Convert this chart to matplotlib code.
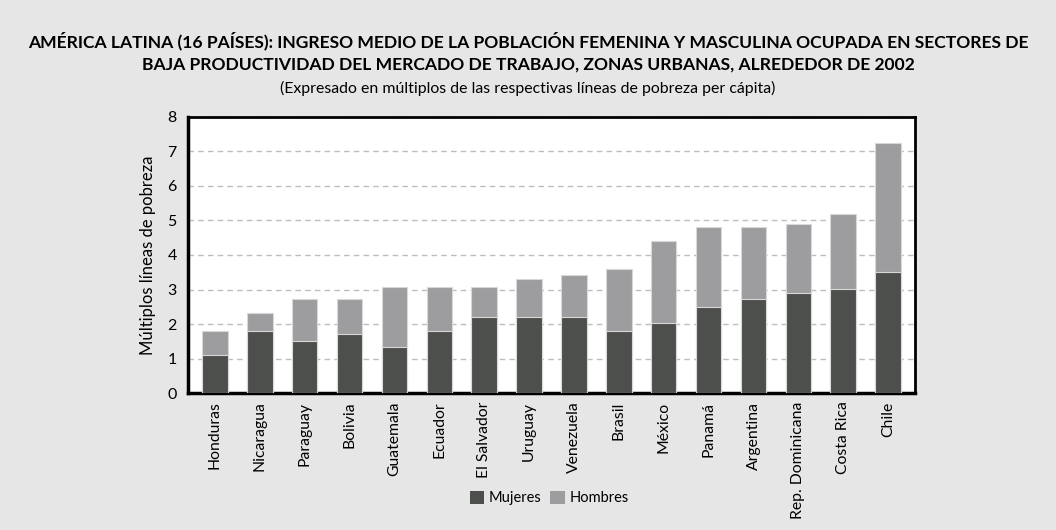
import matplotlib
matplotlib.use("Agg")
import matplotlib.pyplot as plt
from matplotlib.patches import Patch

paises = ["Honduras", "Nicaragua", "Paraguay", "Bolivia", "Guatemala", "Ecuador",
          "El Salvador", "Uruguay", "Venezuela", "Brasil", "México", "Panamá",
          "Argentina", "Rep. Dominicana", "Costa Rica", "Chile"]
mujeres = [1.1, 1.8, 1.5, 1.72, 1.33, 1.8, 2.2, 2.2, 2.2, 1.8, 2.02, 2.5, 2.72, 2.91, 3.02, 3.5]
hombres = [1.8, 2.31, 2.72, 2.72, 3.08, 3.08, 3.08, 3.31, 3.43, 3.6, 4.41, 4.82, 4.82, 4.9, 5.19, 7.23]
yticks = [0, 1, 2, 3, 4, 5, 6, 7, 8]

bg = "#e6e6e6"
c_muj = "#4d4f4c"
c_hom = "#9d9c9e"

plt.rcParams['font.family'] = ['Lato', 'DejaVu Sans']

fig = plt.figure(figsize=(10.56, 5.30), dpi=100, facecolor=bg)
ax = fig.add_axes([0.178, 0.258, 0.6885, 0.780 - 0.258])
ax.set_facecolor("white")

x = list(range(len(paises)))
ax.bar(x, hombres, width=0.57, color=c_hom, edgecolor="#d8d8d8", linewidth=0.8, zorder=3)
ax.bar(x, mujeres, width=0.57, color=c_muj, edgecolor="#d8d8d8", linewidth=0.8, zorder=4)

ax.set_xlim(-0.6, len(paises) - 0.4)
ax.set_ylim(0, 8)
ax.set_yticks(yticks)
ax.set_yticklabels([str(t) for t in yticks], fontsize=11.5)
ax.yaxis.grid(True, linestyle=(0, (4, 3)), color="#bdbdbd", linewidth=1.0, zorder=1)
ax.set_axisbelow(True)
ax.tick_params(axis="y", length=0, pad=8)
ax.tick_params(axis="x", length=0, pad=6)
ax.set_xticks(x)
ax.set_xticklabels(paises, rotation=90, fontsize=11.3, va="top")
ax.set_ylabel("Múltiplos líneas de pobreza", fontsize=12, labelpad=8)

for s in ["left", "bottom"]:
    ax.spines[s].set_linewidth(2.5)
    ax.spines[s].set_zorder(2)
for s in ["top", "right"]:
    ax.spines[s].set_linewidth(2.0)
for s in ax.spines.values():
    s.set_color("black")

fig.text(0.5, 0.922, "AMÉRICA LATINA (16 PAÍSES): INGRESO MEDIO DE LA POBLACIÓN FEMENINA Y MASCULINA OCUPADA EN SECTORES DE",
         ha="center", va="center", fontsize=12.6, fontweight="bold")
fig.text(0.5, 0.878, "BAJA PRODUCTIVIDAD DEL MERCADO DE TRABAJO, ZONAS URBANAS, ALREDEDOR DE 2002",
         ha="center", va="center", fontsize=12.6, fontweight="bold")
fig.text(0.5, 0.834, "(Expresado en múltiplos de las respectivas líneas de pobreza per cápita)",
         ha="center", va="center", fontsize=11.4)

handles = [Patch(facecolor=c_muj, edgecolor="none", label="Mujeres"),
           Patch(facecolor=c_hom, edgecolor="none", label="Hombres")]
fig.legend(handles=handles, loc="center", bbox_to_anchor=(0.52, 0.06), ncol=2,
           frameon=False, fontsize=10.5, handlelength=1.0, handleheight=1.0,
           handletextpad=0.3, columnspacing=0.6)

fig.savefig("out.png", dpi=100, facecolor=bg)
